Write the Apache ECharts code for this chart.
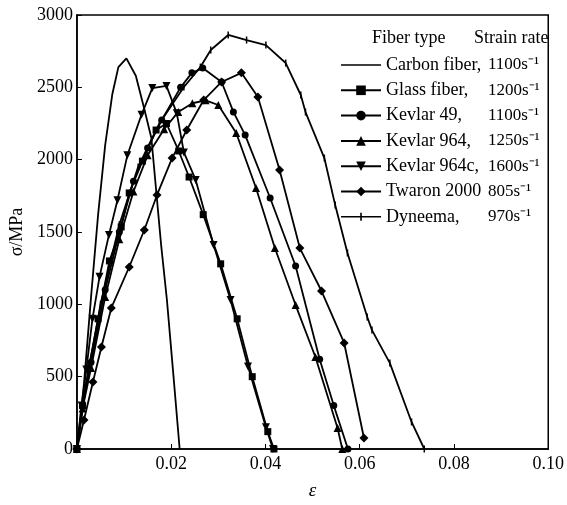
<!DOCTYPE html>
<html>
<head>
<meta charset="utf-8">
<script src="https://cdn.jsdelivr.net/npm/echarts@6/dist/echarts.min.js"></script>
<style>
html,body{margin:0;padding:0;background:#fff;}
#main{width:567px;height:505px;}
</style>
</head>
<body>
<div id="main"></div>
<script>
// strain (eps) vs stress (MPa)
var carbon = [[0,0],[0.0015,450],[0.003,1050],[0.0045,1620],[0.006,2100],[0.0075,2450],[0.0088,2640],[0.0105,2700],[0.0125,2580],[0.0143,2350],[0.0158,2150],[0.0179,1400],[0.0191,1030],[0.0205,500],[0.0218,0]];
var glass = [[0,0],[0.0012,300],[0.0025,560],[0.0045,900],[0.0069,1300],[0.0094,1535],[0.0111,1770],[0.0139,1990],[0.0168,2205],[0.019,2250],[0.0216,2060],[0.0238,1880],[0.0268,1620],[0.0305,1280],[0.034,900],[0.0372,500],[0.0405,120],[0.0418,0]];
var kevlar49 = [[0,0],[0.0012,300],[0.003,600],[0.006,1100],[0.009,1500],[0.012,1850],[0.015,2080],[0.018,2274],[0.022,2500],[0.0244,2600],[0.0267,2633],[0.0307,2537],[0.0332,2330],[0.0357,2170],[0.041,1735],[0.0464,1265],[0.0515,620],[0.0545,300],[0.0575,0]];
var kevlar964 = [[0,0],[0.0012,280],[0.003,560],[0.006,1050],[0.009,1450],[0.012,1780],[0.015,2030],[0.0185,2210],[0.0215,2330],[0.0245,2390],[0.0273,2410],[0.030,2378],[0.0338,2184],[0.038,1804],[0.042,1389],[0.0464,995],[0.0506,636],[0.0553,145],[0.0563,0]];
var kevlar964c = [[0,0],[0.001,300],[0.002,550],[0.0033,900],[0.0048,1190],[0.0068,1480],[0.0086,1720],[0.0107,2030],[0.0137,2310],[0.016,2495],[0.019,2510],[0.0212,2320],[0.0227,2050],[0.0252,1860],[0.029,1410],[0.0326,1030],[0.0363,570],[0.0401,150],[0.0416,0]];
var twaron = [[0,0],[0.0015,200],[0.0034,463],[0.0052,705],[0.0073,975],[0.0111,1258],[0.0143,1514],[0.017,1756],[0.0202,2011],[0.0233,2205],[0.0269,2412],[0.0307,2537],[0.0349,2600],[0.0384,2433],[0.043,1928],[0.0473,1389],[0.0519,1092],[0.0567,733],[0.0609,76]];
var dyneema = [[0,0],[0.002,450],[0.005,1000],[0.009,1550],[0.013,1950],[0.0175,2250],[0.0227,2502],[0.0262,2640],[0.0284,2758],[0.0321,2862],[0.036,2827],[0.0401,2792],[0.0443,2668],[0.0475,2447],[0.0485,2329],[0.0525,2011],[0.0548,1686],[0.0574,1355],[0.0616,912],[0.0626,822],[0.0664,594],[0.071,187],[0.0737,0]];

var names = ['Carbon fiber,','Glass fiber,','Kevlar 49,','Kevlar 964,','Kevlar 964c,','Twaron 2000','Dyneema,'];
var rates = ['1100s⁻¹','1200s⁻¹','1100s⁻¹','1250s⁻¹','1600s⁻¹','805s⁻¹','970s⁻¹'];
var xTicks = [0.02,0.04,0.06,0.08,0.10];
var yTicks = [0,500,1000,1500,2000,2500,3000];

var font = 'Liberation Serif';
var chart = echarts.init(document.getElementById('main'));

function mkSeries(name,data,symbol,size,rot){
	return {
		name:name,
		type:'line',
		data:data,
		symbol:symbol,
		symbolSize:size,
		symbolRotate:rot||0,
		showSymbol:symbol!=='none',
		lineStyle:{color:'#000',width:1.8},
		itemStyle:{color:'#000',borderColor:'#000',borderWidth:0},
		silent:true,
		animation:false,
		z:3
	};
}

// legend entries: plain line for carbon, line with tick for dyneema
var legendData = names.map(function(n){return {name:n};});
legendData[0].icon = 'path://M0,5.2h40v1.6h-40z';
legendData[6].icon = 'path://M0,5.2h40v1.6h-40z M19.2,2h1.6v8h-1.6z';

var option = {
	backgroundColor:'#fff',
	animation:false,
	grid:{left:72,right:16,top:15,bottom:56,show:true,borderColor:'#000',borderWidth:1.5},
	xAxis:{
		type:'value',min:0,max:0.1,interval:0.02,
		name:'ε',nameLocation:'middle',nameGap:32,
		nameTextStyle:{fontFamily:font,fontSize:19,fontStyle:'italic',color:'#000'},
		axisLine:{lineStyle:{color:'#000',width:1.5}},
		axisTick:{inside:true,length:5,lineStyle:{color:'#000'}},
		splitLine:{show:false},
		axisLabel:{fontFamily:font,fontSize:18,color:'#000',margin:6,
			formatter:function(v){
				for(var i=0;i<xTicks.length;i++){
					if(Math.abs(v-xTicks[i])<1e-9) return xTicks[i].toFixed(2);
				}
				return '';
			}}
	},
	yAxis:{
		type:'value',min:0,max:3000,interval:500,
		name:'σ/MPa',nameLocation:'middle',nameGap:46,
		nameTextStyle:{fontFamily:font,fontSize:18,color:'#000'},
		axisLine:{lineStyle:{color:'#000',width:1.5}},
		axisTick:{inside:true,length:5,lineStyle:{color:'#000'}},
		splitLine:{show:false},
		axisLabel:{fontFamily:font,fontSize:18,color:'#000',margin:4,
			formatter:function(v){return yTicks.indexOf(v)>=0?String(v):'';}}
	},
	legend:{
		orient:'vertical',left:335,top:50,
		itemWidth:40,itemHeight:12,itemGap:5.3,
		data:legendData,
		selectedMode:false,
		textStyle:{fontFamily:font,fontSize:18,color:'#000',lineHeight:20,
			rich:{
				n:{fontFamily:font,fontSize:18,color:'#000',width:102},
				r:{fontFamily:font,fontSize:17,color:'#000'}
			}},
		formatter:function(name){
			var i = names.indexOf(name);
			return '{n|'+name+'}{r|'+rates[i]+'}';
		}
	},
	graphic:[
		{type:'text',left:372,top:29,style:{text:'Fiber type',font:'18px "Liberation Serif"',fill:'#000'}},
		{type:'text',left:474,top:29,style:{text:'Strain rate',font:'18px "Liberation Serif"',fill:'#000'}}
	],
	series:[
		mkSeries(names[0],carbon,'none',0),
		mkSeries(names[1],glass,'rect',7),
		mkSeries(names[2],kevlar49,'circle',7),
		mkSeries(names[3],kevlar964,'triangle',8),
		mkSeries(names[4],kevlar964c,'triangle',8,180),
		mkSeries(names[5],twaron,'diamond',9),
		mkSeries(names[6],dyneema,'rect',[1.5,7])
	]
};
chart.setOption(option);
</script>
</body>
</html>
